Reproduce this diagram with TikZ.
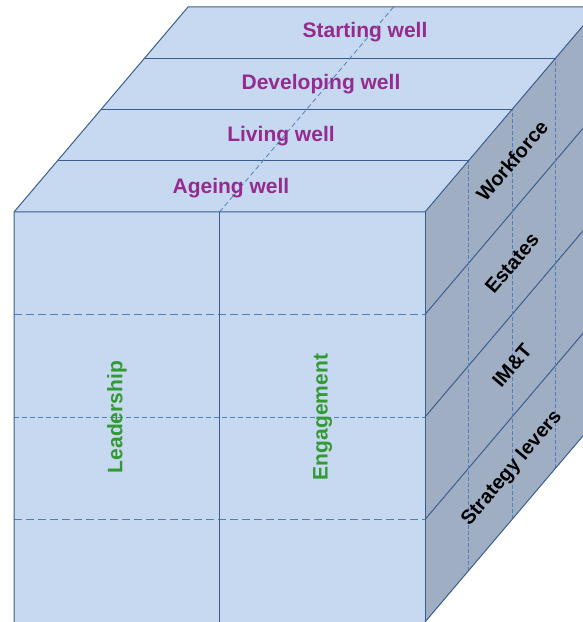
\documentclass[tikz,border=0pt]{standalone}
\usepackage{fontspec}
\setmainfont{Liberation Sans}
\definecolor{facefront}{HTML}{C6D9F0}
\definecolor{faceside}{HTML}{A0AEC4}
\definecolor{edgeblue}{HTML}{3A5F8F}
\definecolor{dashblue}{HTML}{4F81BD}
\definecolor{wellpurple}{HTML}{962A8F}
\definecolor{leadgreen}{HTML}{339933}
\begin{document}
\begin{tikzpicture}[x=1pt,y=1pt,
    edge/.style={draw=edgeblue,line width=1pt},
    cut/.style={draw=dashblue,line width=1.4pt,dash pattern=on 8pt off 4pt},
    thincut/.style={draw=dashblue,line width=0.8pt,dash pattern=on 5pt off 3pt},
    sidecut/.style={draw=dashblue,line width=0.8pt,dash pattern=on 4pt off 2pt},
    well/.style={text=wellpurple,font=\fontsize{21}{25}\bfseries\selectfont},
    person/.style={text=leadgreen,font=\fontsize{21}{25}\bfseries\selectfont,rotate=90},
    lever/.style={text=black,font=\fontsize{20}{24}\bfseries\selectfont,rotate=49.7}]
  \useasboundingbox (0,0) rectangle (583,622);
  \begin{scope}
    \clip (0,0) rectangle (583,622);
    % faces
    \fill[facefront] (14,0) rectangle (425,410);
    \fill[facefront] (14,410) -- (188,615) -- (599,615) -- (425,410) -- cycle;
    \fill[faceside] (425,0) -- (599,205) -- (599,615) -- (425,410) -- cycle;
    % top bands
    \draw[edge] (57.5,461.25) -- (468.5,461.25);
    \draw[edge] (101,512.5) -- (512,512.5);
    \draw[edge] (144.5,563.75) -- (555.5,563.75);
    \draw[thincut] (219.5,410) -- (393.5,615);
    % side layers
    \draw[edge] (425,102.5) -- (599,307.5);
    \draw[edge] (425,205) -- (599,410);
    \draw[edge] (425,307.5) -- (599,512.5);
    \draw[sidecut] (468.5,51.25) -- (468.5,461.25);
    \draw[sidecut] (512,102.5) -- (512,512.5);
    \draw[sidecut] (555.5,153.75) -- (555.5,563.75);
    % front grid
    \draw[cut] (14,307.5) -- (425,307.5);
    \draw[thincut] (14,205) -- (425,205);
    \draw[cut] (14,102.5) -- (425,102.5);
    \draw[edge] (219.5,0) -- (219.5,410);
    % outlines
    \draw[edge] (14,0) -- (14,410) -- (188,615) -- (599,615);
    \draw[edge] (14,410) -- (425,410) -- (599,615);
    \draw[edge] (425,0) -- (425,410);
    \draw[edge] (425,0) -- (599,205) -- (599,615);
  \end{scope}
  \node[well] (starting) at (365,590) {Starting well};
  \node[well] (developing) at (321,538) {Developing well};
  \node[well] (living) at (281,486) {Living well};
  \node[well] (ageing) at (231,434) {Ageing well};
  \node[person] (leadership) at (117,205) {Leadership};
  \node[person] (engagement) at (322.5,205) {Engagement};
  \node[lever] (workforce) at (512,461.25) {Workforce};
  \node[lever] (estates) at (512,358.75) {Estates};
  \node[lever] (imt) at (512,256.25) {IM\&T};
  \node[lever] (strategy) at (512,153.75) {Strategy levers};
\end{tikzpicture}
\end{document}
